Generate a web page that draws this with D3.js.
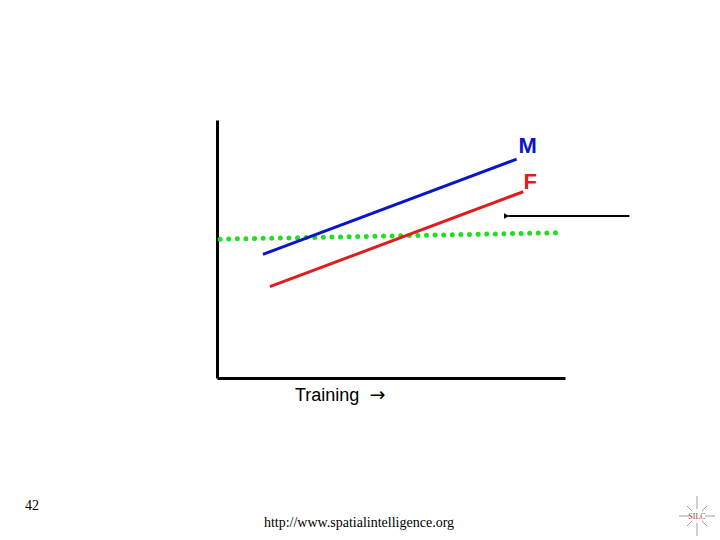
<!DOCTYPE html>
<html>
<head>
<meta charset="utf-8">
<script src="https://cdn.jsdelivr.net/npm/d3@7"></script>
<style>
  body { margin: 0; background: #fff; }
  svg { display: block; }
</style>
</head>
<body>
<svg width="720" height="540"></svg>
<script>
(function (d3) {
  'use strict';
  // series, in chart units (0-100 on both axes)
  const seriesNames = ['M', 'F'];
  const seriesColors = ['#0a14c8', '#dc1e1e'];
  const maleLine = [{ x: 13.2, y: 47.9 }, { x: 86.1, y: 84.8 }];
  const femaleLine = [{ x: 15.2, y: 35.4 }, { x: 88.0, y: 72.2 }];
  const flatLine = [{ x: 0.9, y: 53.8 }, { x: 97.7, y: 56.3 }];
  const pointer = [{ x: 83.8, y: 62.8 }, { x: 118.5, y: 62.8 }];
  const xAxisLabelText = 'Training ';
  const xAxisArrow = '\u2192';
  const slideNumber = '42';
  const footerText = 'http://www.spatialintelligence.org';

  const svg = d3.select('svg');
  const margin = { top: 120, left: 217, right: 155, bottom: 162 };
  const width = +svg.attr('width');
  const height = +svg.attr('height');
  const innerWidth = width - margin.left - margin.right;
  const innerHeight = height - margin.top - margin.bottom;

  const xScale = d3.scaleLinear().domain([0, 100]).range([0, innerWidth]);
  const yScale = d3.scaleLinear().domain([0, 100]).range([innerHeight, 0]);

  const g = svg.append('g')
    .attr('transform', `translate(${margin.left},${margin.top})`);

  const yAxisG = g.append('g')
    .call(d3.axisLeft(yScale).ticks(0).tickSizeOuter(0));
  yAxisG.select('.domain').attr('stroke', '#000').attr('stroke-width', 3);

  const xAxisG = g.append('g')
    .attr('transform', `translate(0,${innerHeight})`)
    .call(d3.axisBottom(xScale).ticks(0).tickSizeOuter(0));
  xAxisG.select('.domain').attr('stroke', '#000').attr('stroke-width', 3);

  const label = xAxisG.append('text')
    .attr('x', 78)
    .attr('y', 23)
    .attr('fill', '#000')
    .attr('font-family', 'Liberation Sans, Arial, sans-serif')
    .attr('font-size', 18)
    .attr('text-anchor', 'start')
    .text(xAxisLabelText);
  label.append('tspan')
    .attr('dx', 5)
    .attr('font-family', 'DejaVu Sans, sans-serif')
    .attr('font-size', 19)
    .text(xAxisArrow);

  const line = d3.line().x(d => xScale(d.x)).y(d => yScale(d.y));

  // green dotted line
  g.append('path')
    .datum(flatLine)
    .attr('d', line)
    .attr('fill', 'none')
    .attr('stroke', '#22dd22')
    .attr('stroke-width', 5)
    .attr('stroke-linecap', 'round')
    .attr('stroke-dasharray', '0 8.6');

  const labelOffsets = [{ dx: 11, dy: -6 }, { dx: 7, dy: -3 }];
  [maleLine, femaleLine].forEach((data, i) => {
    g.append('path')
      .datum(data)
      .attr('d', line)
      .attr('fill', 'none')
      .attr('stroke', seriesColors[i])
      .attr('stroke-width', 3);

    const end = data[data.length - 1];
    g.append('text')
      .attr('x', xScale(end.x) + labelOffsets[i].dx)
      .attr('y', yScale(end.y) + labelOffsets[i].dy)
      .attr('fill', seriesColors[i])
      .attr('font-family', 'Liberation Sans, Arial, sans-serif')
      .attr('font-weight', 'bold')
      .attr('font-size', 22)
      .attr('text-anchor', 'middle')
      .text(seriesNames[i]);
  });

  // pointer arrow
  svg.append('defs').append('marker')
    .attr('id', 'head')
    .attr('viewBox', '0 0 6 6')
    .attr('refX', 1).attr('refY', 3)
    .attr('markerWidth', 3).attr('markerHeight', 3)
    .attr('orient', 'auto-start-reverse')
    .append('path').attr('d', 'M0,3L6,0L6,6Z').attr('fill', '#000');

  g.append('path')
    .datum(pointer)
    .attr('d', line)
    .attr('stroke', '#000')
    .attr('stroke-width', 2)
    .attr('marker-start', 'url(#head)');

  // footer
  svg.append('text')
    .attr('x', 25).attr('y', 510)
    .attr('font-family', 'Liberation Serif, Times New Roman, serif')
    .attr('font-size', 14)
    .text(slideNumber);

  svg.append('text')
    .attr('x', 359).attr('y', 527)
    .attr('text-anchor', 'middle')
    .attr('font-family', 'Liberation Serif, Times New Roman, serif')
    .attr('font-size', 14)
    .text(footerText);

  // SILC logo
  const logo = svg.append('g').attr('transform', 'translate(697,516)');
  const rays = [[0, -20, 0, -7], [0, 7, 0, 20], [-18, 0, -8, 0], [8, 0, 18, 0],
    [-10, -10, -5, -5], [5, -5, 10, -10], [-10, 10, -5, 5], [5, 5, 10, 10]];
  logo.selectAll('line').data(rays).enter().append('line')
    .attr('x1', d => d[0]).attr('y1', d => d[1])
    .attr('x2', d => d[2]).attr('y2', d => d[3])
    .attr('stroke', '#888').attr('stroke-width', 0.8);
  logo.append('text')
    .attr('y', 3)
    .attr('text-anchor', 'middle')
    .attr('font-family', 'Liberation Serif, serif')
    .attr('font-size', 8)
    .attr('fill', '#a33')
    .text('SILC');
}(d3));
</script>
</body>
</html>
